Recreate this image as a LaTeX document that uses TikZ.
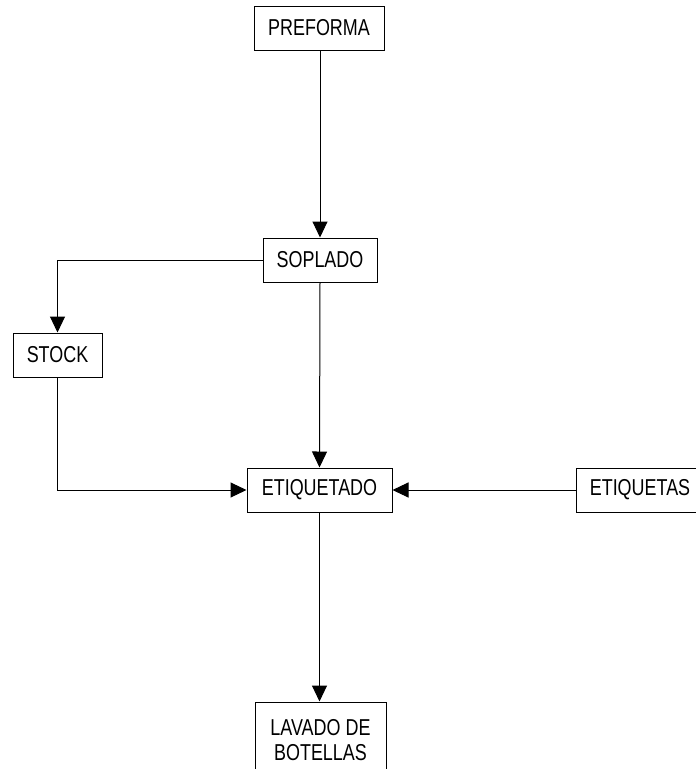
\documentclass[tikz,border=0pt]{standalone}
\usepackage{fontspec}
\setmainfont[FakeStretch=0.78]{Liberation Sans}
\usetikzlibrary{arrows.meta}
\begin{document}
\begin{tikzpicture}[x=1pt,y=-1pt,
  blk/.style={draw,line width=1pt,rectangle,minimum height=44pt,inner sep=0pt,
    font=\fontsize{23}{25}\selectfont,align=center},
  flow/.style={draw,line width=1pt,-{Triangle[length=16pt,width=15pt]}}]
\useasboundingbox (0,0) rectangle (696,769);
\node[blk,minimum width=130pt] (pre) at (319,28) {PREFORMA};
\node[blk,minimum width=114pt] (sop) at (320,260) {SOPLADO};
\node[blk,minimum width=89pt] (sto) at (57.5,355) {STOCK};
\node[blk,minimum width=145pt] (eti) at (319.5,490) {ETIQUETADO};
\node[blk,minimum width=128pt] (ets) at (640,490) {ETIQUETAS};
\node[blk,minimum width=131pt,minimum height=76pt] (lav) at (320.5,740) {LAVADO DE\\BOTELLAS};
\draw[flow] (pre.south -| sop.north) -- (sop.north);
\draw[flow] (sop.west) -| (sto.north);
\draw[flow] (sop.south) -- (eti.north);
\draw[flow] (sto.south) |- (eti.west);
\draw[flow] (ets.west) -- (eti.east);
\draw[flow] (eti.south) -- (eti.south |- lav.north);
\end{tikzpicture}
\end{document}
